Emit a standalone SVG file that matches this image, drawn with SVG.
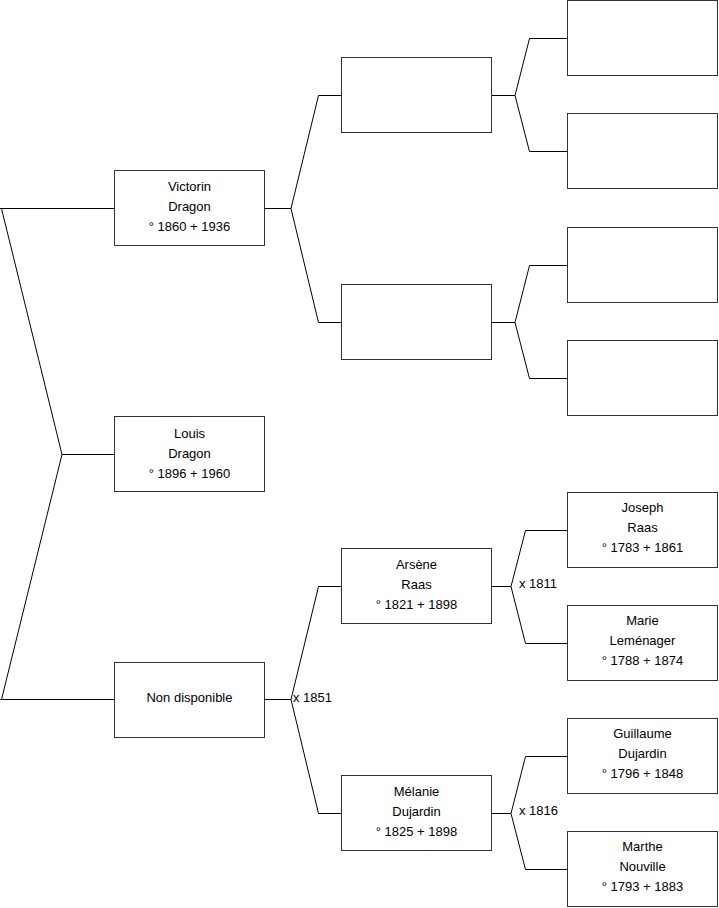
<svg xmlns="http://www.w3.org/2000/svg" width="719" height="908" viewBox="0 0 719 908">
<style>
.box{fill:#fff;stroke:#333;stroke-width:1}
.ln{fill:none;stroke:#000;stroke-width:1}
text{font-family:"Liberation Sans",Arial,sans-serif;font-size:13px;fill:#000}
.c{text-anchor:middle}
</style>
<rect x="0" y="0" width="719" height="908" fill="#fff"/>
<g id="connectors">
<polyline class="ln" points="0,208.5 114,208.5"/>
<polyline class="ln" points="1.5,208.5 62,454.5 1.5,699.5"/>
<polyline class="ln" points="62,454.5 114,454.5"/>
<polyline class="ln" points="0,699.5 114,699.5"/>
<polyline class="ln" points="265,208.5 291,208.5"/>
<polyline class="ln" points="341,95.5 318.5,95.5 291,208.5 318.5,322.5 341,322.5"/>
<polyline class="ln" points="265,699.5 291,699.5"/>
<polyline class="ln" points="341,586.5 318.5,586.5 291,699.5 318.5,813.5 341,813.5"/>
<polyline class="ln" points="492,95.5 515,95.5"/>
<polyline class="ln" points="567,38.5 529.5,38.5 515,95.5 529.5,151.5 567,151.5"/>
<polyline class="ln" points="492,322.5 515,322.5"/>
<polyline class="ln" points="567,265.5 529.5,265.5 515,322.5 529.5,378.5 567,378.5"/>
<polyline class="ln" points="492,586.5 511,586.5"/>
<polyline class="ln" points="567,530.5 525.5,530.5 511,586.5 525.5,643.5 567,643.5"/>
<polyline class="ln" points="492,813.5 511,813.5"/>
<polyline class="ln" points="567,756.5 525.5,756.5 511,813.5 525.5,869.5 567,869.5"/>
<text x="293" y="702">x 1851</text>
<text x="519" y="588">x 1811</text>
<text x="519" y="815">x 1816</text>
</g>
<g id="victorin"><rect class="box" x="114.5" y="170.5" width="150" height="75"/>
<text class="c" x="189.5" y="191">Victorin</text><text class="c" x="189.5" y="211">Dragon</text><text class="c" x="189.5" y="231">° 1860 + 1936</text></g>
<g id="louis"><rect class="box" x="114.5" y="416.5" width="150" height="75"/>
<text class="c" x="189.5" y="438">Louis</text><text class="c" x="189.5" y="458">Dragon</text><text class="c" x="189.5" y="478">° 1896 + 1960</text></g>
<g id="nondispo"><rect class="box" x="114.5" y="662.5" width="150" height="75"/>
<text class="c" x="189.5" y="702">Non disponible</text></g>
<g id="p2a"><rect class="box" x="341.5" y="57.5" width="150" height="75"/></g>
<g id="p2b"><rect class="box" x="341.5" y="284.5" width="150" height="75"/></g>
<g id="arsene"><rect class="box" x="341.5" y="548.5" width="150" height="75"/>
<text class="c" x="416.5" y="569">Arsène</text><text class="c" x="416.5" y="589">Raas</text><text class="c" x="416.5" y="609">° 1821 + 1898</text></g>
<g id="melanie"><rect class="box" x="341.5" y="775.5" width="150" height="75"/>
<text class="c" x="416.5" y="796">Mélanie</text><text class="c" x="416.5" y="816">Dujardin</text><text class="c" x="416.5" y="836">° 1825 + 1898</text></g>
<g id="p3a"><rect class="box" x="567.5" y="0.5" width="150" height="75"/></g>
<g id="p3b"><rect class="box" x="567.5" y="113.5" width="150" height="75"/></g>
<g id="p3c"><rect class="box" x="567.5" y="227.5" width="150" height="75"/></g>
<g id="p3d"><rect class="box" x="567.5" y="340.5" width="150" height="75"/></g>
<g id="joseph"><rect class="box" x="567.5" y="492.5" width="150" height="75"/>
<text class="c" x="642.5" y="512">Joseph</text><text class="c" x="642.5" y="532">Raas</text><text class="c" x="642.5" y="552">° 1783 + 1861</text></g>
<g id="marie"><rect class="box" x="567.5" y="605.5" width="150" height="75"/>
<text class="c" x="642.5" y="625">Marie</text><text class="c" x="642.5" y="645">Leménager</text><text class="c" x="642.5" y="665">° 1788 + 1874</text></g>
<g id="guillaume"><rect class="box" x="567.5" y="718.5" width="150" height="75"/>
<text class="c" x="642.5" y="738">Guillaume</text><text class="c" x="642.5" y="758">Dujardin</text><text class="c" x="642.5" y="778">° 1796 + 1848</text></g>
<g id="marthe"><rect class="box" x="567.5" y="831.5" width="150" height="75"/>
<text class="c" x="642.5" y="851">Marthe</text><text class="c" x="642.5" y="871">Nouville</text><text class="c" x="642.5" y="891">° 1793 + 1883</text></g>
</svg>
